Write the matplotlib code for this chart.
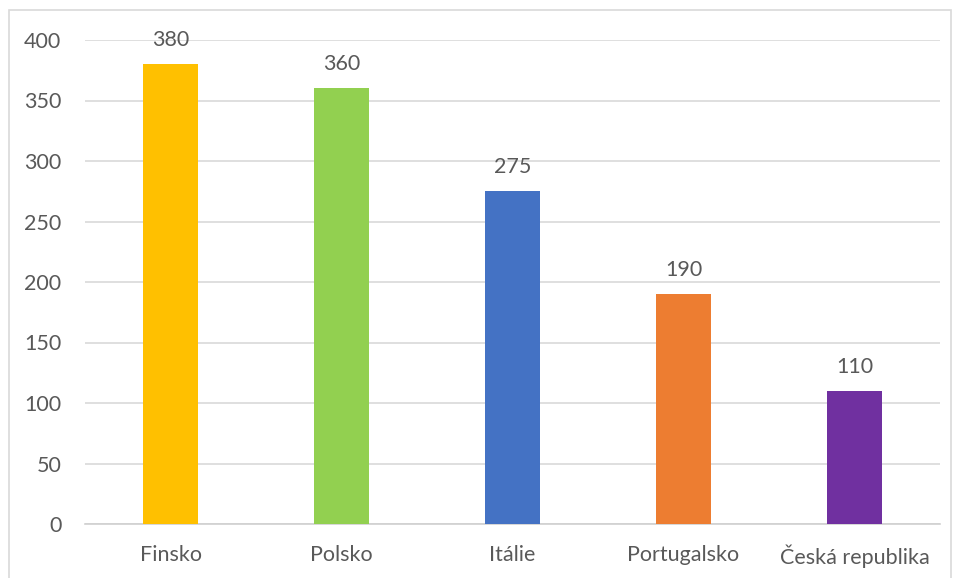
import matplotlib.pyplot as plt
from matplotlib.patches import Rectangle

zeme = ['Finsko', 'Polsko', 'Itálie', 'Portugalsko', 'Česká republika']
hodnoty = [380, 360, 275, 190, 110]
barvy = ['#FFC000', '#92D050', '#4472C4', '#ED7D31', '#7030A0']

plt.rcParams['font.family'] = ['Lato', 'DejaVu Sans']
text_barva = '#595959'
velikost = 15.5

fig = plt.figure(figsize=(9.57, 5.78), dpi=100)
ax = fig.add_axes([85 / 957, 54 / 578, 855 / 957, 484 / 578])

x = range(len(zeme))
ax.bar(x, hodnoty, width=0.316, color=barvy, zorder=3)
for i, v in zip(x, hodnoty):
    ax.annotate(str(v), (i, v), xytext=(0, 24), textcoords='offset pixels',
                ha='center', va='center', fontsize=velikost, color=text_barva,
                annotation_clip=False)

ax.set_xlim(-0.5, len(zeme) - 0.5)
ax.set_ylim(0, 400)
ax.set_yticks(range(0, 401, 50))
ax.set_xticks(list(x))
ax.set_xticklabels(zeme)
ax.yaxis.grid(True, color='#D9D9D9', linewidth=1.2, zorder=0)
ax.tick_params(length=0, labelsize=velikost, labelcolor=text_barva)
ax.tick_params(axis='y', pad=17)
ax.tick_params(axis='x', pad=15)
for s in ['top', 'right', 'left']:
    ax.spines[s].set_visible(False)
ax.spines['bottom'].set_color('#D0D0D0')
ax.spines['bottom'].set_linewidth(1.2)

# rámeček kolem grafu
fig.patches.append(Rectangle((9 / 957, -0.01), 942 / 957, 1 - 10 / 578 + 0.01,
                             transform=fig.transFigure, fill=False,
                             edgecolor='#D9D9D9', linewidth=1.2))

fig.savefig('out.png', dpi=100)
